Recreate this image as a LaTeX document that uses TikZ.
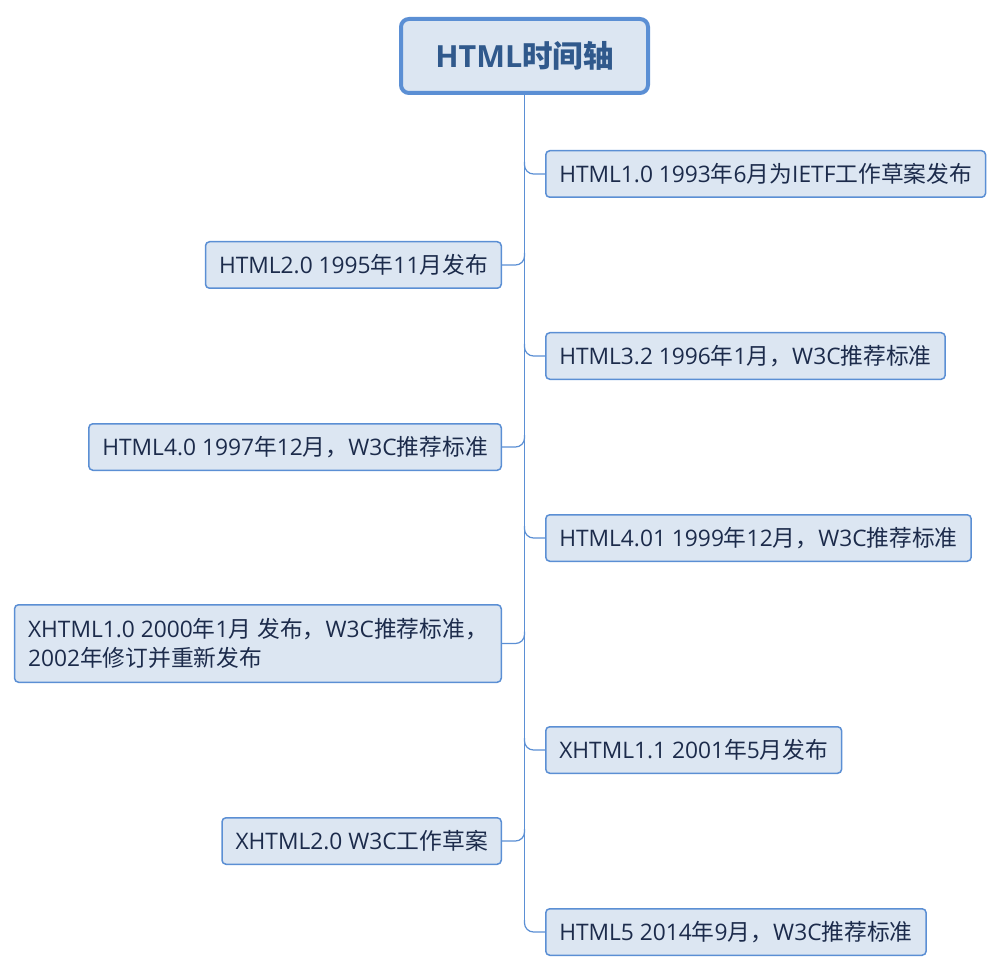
\documentclass[tikz,border=0pt]{standalone}
\usepackage{fontspec}
\setmainfont{Open Sans}
\newfontfamily\zhfont{Noto Sans CJK SC}
\newcommand{\zh}[1]{{\zhfont #1}}
\usetikzlibrary{positioning}
\definecolor{boxfill}{HTML}{DCE6F2}
\definecolor{boxline}{HTML}{5B8FD4}
\definecolor{titletext}{HTML}{30598C}
\definecolor{itemtext}{HTML}{1C2B4B}
\tikzset{
  topic/.style={draw=boxline, fill=boxfill, line width=4pt, rounded corners=8pt,
    minimum width=247pt, minimum height=74pt, text=titletext,
    font=\fontsize{30.5}{34}\selectfont\bfseries},
  item/.style={draw=boxline, fill=boxfill, line width=1.5pt, rounded corners=4pt,
    minimum height=46.5pt, inner xsep=13.5pt, text=itemtext, align=left,
    font=\fontsize{22.75}{29}\selectfont},
  link/.style={draw=boxline, line width=1.2pt, rounded corners=9pt}
}

\begin{document}
\begin{tikzpicture}[x=1pt,y=-1pt]
\useasboundingbox (0,0) rectangle (998,973);
\node[topic] (root) at (524.5,56) {HTML\zh{时间轴}};
% right side
\node[item, anchor=west] (v1) at (545,174) {HTML1.0 1993\zh{年}6\zh{月为}IETF\zh{工作草案发布}};
\node[item, anchor=west] (v3) at (545,356) {HTML3.2 1996\zh{年}1\zh{月，}W3C\zh{推荐标准}};
\node[item, anchor=west] (v5) at (545,538) {HTML4.01 1999\zh{年}12\zh{月，}W3C\zh{推荐标准}};
\node[item, anchor=west] (v7) at (545,750) {XHTML1.1 2001\zh{年}5\zh{月发布}};
\node[item, anchor=west] (v9) at (545,932) {HTML5 2014\zh{年}9\zh{月，}W3C\zh{推荐标准}};
% left side
\node[item, anchor=east] (v2) at (502,265) {HTML2.0 1995\zh{年}11\zh{月发布}};
\node[item, anchor=east] (v4) at (502,447) {HTML4.0 1997\zh{年}12\zh{月，}W3C\zh{推荐标准}};
\node[item, anchor=east, minimum height=77.5pt] (v6) at (502,643.5) {XHTML1.0 2000\zh{年}1\zh{月} \zh{发布，}W3C\zh{推荐标准，}\\2002\zh{年修订并重新发布}};
\node[item, anchor=east] (v8) at (502,841) {XHTML2.0 W3C\zh{工作草案}};
% spine
\coordinate (end) at (root.south |- v9.west);
\draw[link] (root.south) -- ([yshift=12pt]end);
\foreach \v/\s in {v1/west,v3/west,v5/west,v7/west,v9/west,v2/east,v4/east,v6/east,v8/east} {
  \draw[link] ([yshift=12pt]root.south |- \v.\s) -- (root.south |- \v.\s) -- (\v.\s);
}
\end{tikzpicture}
\end{document}
